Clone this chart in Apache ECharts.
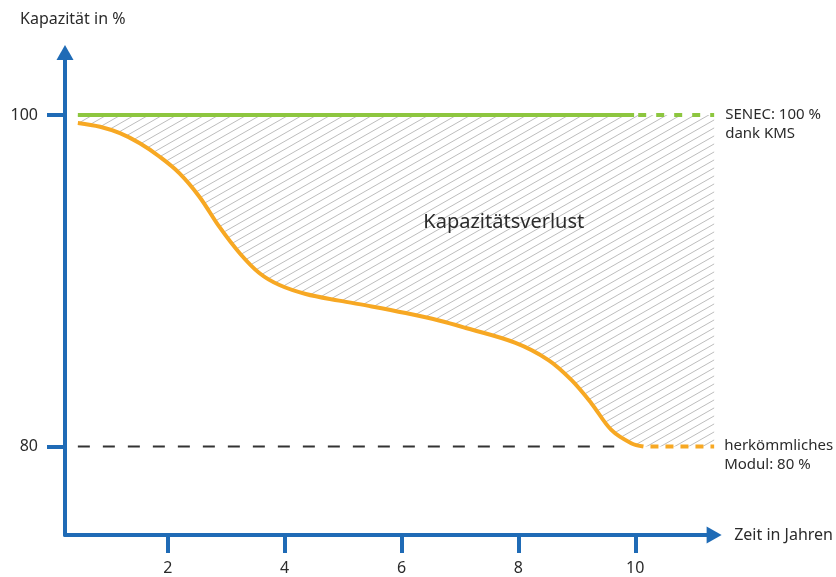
<!DOCTYPE html>
<html>
<head>
<meta charset="utf-8">
<script src="https://cdn.jsdelivr.net/npm/echarts@6/dist/echarts.min.js"></script>
<style>
  html, body { margin: 0; padding: 0; background: #fff; }
  #chart { width: 836px; height: 577px; }
</style>
</head>
<body>
<div id="chart"></div>
<script>
"use strict";

// ── Daten ──
const X_TICKS = [2, 4, 6, 8, 10];
const Y_TICKS = [80, 100];

// herkömmliches Modul: Kapazitätsverlauf (Jahre → %)
const CURVE_X = [0.46, 0.84, 1.18, 1.52, 1.86, 2.20, 2.54, 2.88, 3.23, 3.57, 3.91, 4.36,
                 4.93, 5.49, 6.07, 6.64, 7.10, 7.95, 8.52, 8.91, 9.25, 9.59, 9.93, 10.14];
const CURVE_Y = [99.52, 99.29, 98.9, 98.29, 97.48, 96.48, 95.07, 93.26, 91.66, 90.45, 89.74, 89.2,
                 88.8, 88.45, 88.05, 87.6, 87.15, 86.25, 85.2, 84.0, 82.6, 81.0, 80.2, 80];
const CURVE_TAIL = [[10.26, 80], [11.35, 80]];

// SENEC: 100 % dank KMS
const SENEC_SOLID = [[0.46, 100], [9.98, 100]];
const SENEC_TAIL = [[10.05, 100], [11.35, 100]];

// 80 % Referenzlinie
const REF_80 = [[0.46, 80], [9.64, 80]];

const LOSS_LABEL_AT = [7.75, 93.5];

const BLUE = "#1f6bb6", GREEN = "#8dc63f", ORANGE = "#f7a823", TEXT = "#2b2b2b";
const FONT = "Noto Sans";

// Schraffur als Canvas-Muster
function hatch() {
  const w = 14, h = 8;
  const c = document.createElement("canvas");
  c.width = w; c.height = h;
  const g = c.getContext("2d");
  g.strokeStyle = "#bdbdbd";
  g.lineWidth = 1;
  for (const dy of [-h, 0, h]) {
    g.beginPath();
    g.moveTo(-w, 2 * h + dy);
    g.lineTo(2 * w, -h + dy);
    g.stroke();
  }
  return { image: c, repeat: "repeat" };
}

const curve = CURVE_X.map((x, i) => [x, CURVE_Y[i]]);
const lossEdge = curve.concat([CURVE_TAIL[CURVE_TAIL.length - 1]]);

const chart = echarts.init(document.getElementById("chart"));
chart.setOption({
  animation: false,
  grid: { left: 65, right: 120.5, top: 52.5, bottom: 42 },
  graphic: [{
    type: "text", left: 20, top: 11,
    style: { text: "Kapazität in %", fontSize: 16, fontFamily: FONT, fill: TEXT },
  }],
  xAxis: {
    type: "value", min: 0.24, max: 11.35,
    name: "Zeit in Jahren", nameLocation: "end", nameGap: 20,
    nameTextStyle: { fontSize: 16, fontFamily: FONT, color: TEXT, align: "left", verticalAlign: "middle" },
    axisLine: { show: true, onZero: false, symbol: ["none", "triangle"], symbolSize: [17, 15],
                lineStyle: { color: BLUE, width: 4 } },
    axisTick: { show: true, customValues: X_TICKS, length: 18, lineStyle: { color: BLUE, width: 4 } },
    axisLabel: { customValues: X_TICKS, margin: 25, fontSize: 16, fontFamily: FONT, color: TEXT },
    splitLine: { show: false },
  },
  yAxis: {
    type: "value", min: 74.66, max: 103.77,
    axisLine: { show: true, onZero: false, symbol: ["none", "triangle"], symbolSize: [17, 15],
                lineStyle: { color: BLUE, width: 4 } },
    axisTick: { show: true, customValues: Y_TICKS, length: 18, lineStyle: { color: BLUE, width: 4 } },
    axisLabel: { customValues: Y_TICKS, margin: 27, fontSize: 16, fontFamily: FONT, color: TEXT },
    splitLine: { show: false },
  },
  series: [
    { name: "Kapazitätsverlust", type: "line", data: lossEdge, smooth: 0.35,
      showSymbol: false, silent: true, lineStyle: { opacity: 0 },
      areaStyle: { color: hatch(), opacity: 1, origin: 100 }, z: 1,
      markPoint: {
        symbol: "circle", symbolSize: 0, itemStyle: { color: "transparent" },
        label: { show: true, position: "inside", formatter: "Kapazitätsverlust",
                 fontSize: 20, fontFamily: FONT, color: TEXT },
        data: [{ coord: LOSS_LABEL_AT }],
      } },
    { name: "80 %", type: "line", data: REF_80, showSymbol: false,
      lineStyle: { color: "#333", width: 2, type: [12, 13] }, z: 2 },
    { name: "SENEC", type: "line", data: SENEC_SOLID, showSymbol: false,
      lineStyle: { color: GREEN, width: 4, cap: "butt" }, z: 3 },
    { name: "SENEC Ausblick", type: "line", data: SENEC_TAIL, showSymbol: false,
      lineStyle: { color: GREEN, width: 4, type: [8, 10] }, z: 3,
      endLabel: { show: true, formatter: "SENEC: 100 %\ndank KMS", distance: 11,
                  align: "left", verticalAlign: "top", offset: [0, -10], lineHeight: 19,
                  fontSize: 15, fontFamily: FONT, color: TEXT } },
    { name: "herkömmliches Modul", type: "line", data: curve, smooth: 0.35,
      showSymbol: false, lineStyle: { color: ORANGE, width: 4 }, z: 4 },
    { name: "Modul Ausblick", type: "line", data: CURVE_TAIL, showSymbol: false,
      lineStyle: { color: ORANGE, width: 4, type: [8, 7] }, z: 4,
      endLabel: { show: true, formatter: "herkömmliches\nModul: 80 %", distance: 10,
                  align: "left", verticalAlign: "top", offset: [0, -10], lineHeight: 19,
                  fontSize: 15, fontFamily: FONT, color: TEXT } },
  ],
});
</script>
</body>
</html>
